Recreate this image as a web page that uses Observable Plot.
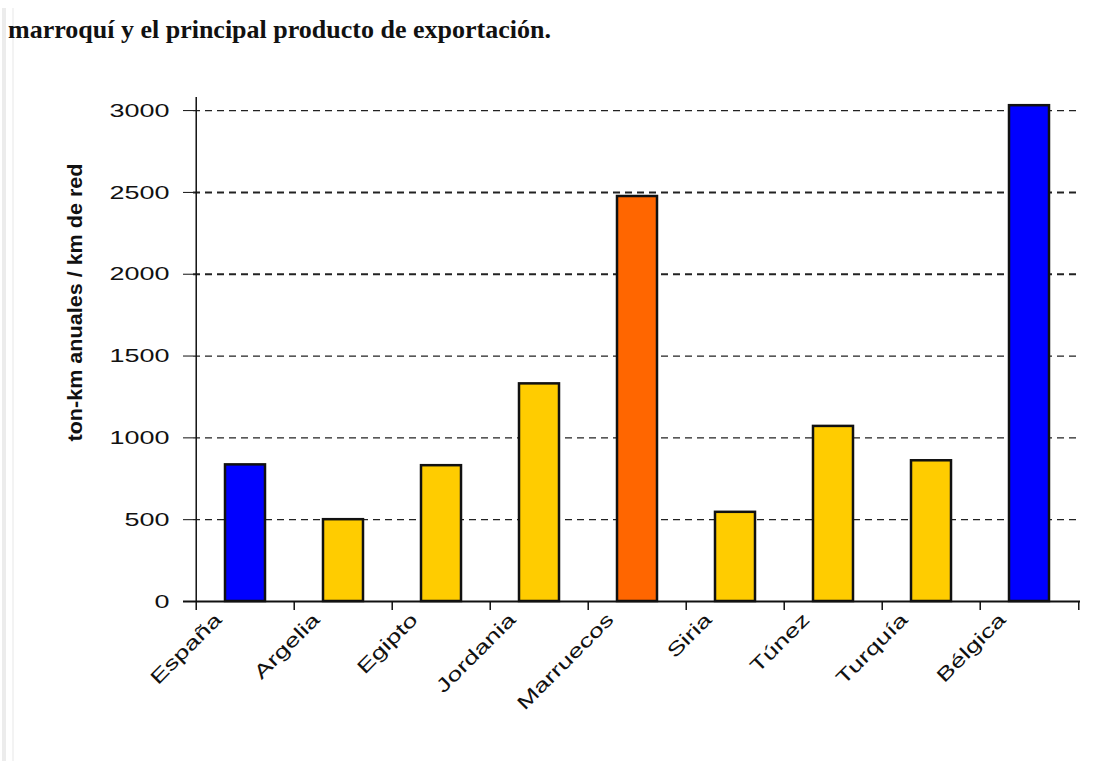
<!DOCTYPE html>
<html><head><meta charset="utf-8">
<script src="https://cdn.jsdelivr.net/npm/d3@7"></script>
<script src="https://cdn.jsdelivr.net/npm/@observablehq/plot@0.6"></script>
<style>
html,body{margin:0;padding:0;background:#fff;width:1106px;height:761px;overflow:hidden}
#wrap{position:relative;width:1106px;height:761px}
#title{position:absolute;left:8px;top:15px;font-family:"Liberation Serif","Times New Roman",serif;font-weight:bold;font-size:26px;color:#111;white-space:nowrap}
#chart{position:absolute;left:0;top:0}
.edge{position:absolute;top:8px;bottom:0;background:#ececec}
</style></head><body>
<div id="wrap">
<div class="edge" style="left:2px;width:4px"></div>
<div class="edge" style="left:12px;width:2px;background:#f3f3f3"></div>
<div id="chart"></div>
<div id="title">marroquí y el principal producto de exportación.</div>
</div>
<script>
const countries = ["España","Argelia","Egipto","Jordania","Marruecos","Siria","Túnez","Turquía","Bélgica"];
const values = [835, 500, 830, 1330, 2475, 545, 1070, 860, 3030];
const groups = ["ref","mag","mag","mag","mar","mag","mag","mag","ref"];
const yTicks = [0,500,1000,1500,2000,2500,3000];
const yLabel = "ton-km anuales / km de red";

const data = countries.map((c,i)=>({country:c, value:values[i], group:groups[i]}));
const W=1106,H=761,mL=193,mR=26,mT=97,mB=160;
const band=(W-mL-mR)/countries.length;
const yMax=3080;

const chart = Plot.plot({
  width:W, height:H, marginLeft:mL, marginRight:mR, marginTop:mT, marginBottom:mB,
  style:{fontFamily:'"Liberation Sans", Arial, sans-serif', fontSize:"19px", color:"#111", background:"transparent", overflow:"visible"},
  x:{domain:countries, padding:0, label:null},
  y:{domain:[0,yMax], label:null},
  color:{domain:["ref","mag","mar"], range:["#0000ff","#ffcc00","#ff6600"]},
  marks:[
    Plot.ruleY(yTicks.filter(d=>d>0), {y:d=>d, stroke:"#222", strokeWidth:d=>(d===2000||d===2500)?2:1.3, strokeDasharray:"7,5"}),
    Plot.barY(data,{x:"country", y:"value", fill:"group", stroke:"#111", strokeWidth:2.5, insetLeft:29, insetRight:29}),
    Plot.ruleY([0],{stroke:"#111", strokeWidth:2, insetLeft:-10}),
    Plot.ruleX(countries,{x:d=>d, dx:-band/2, y1:-55, y2:d=>d===countries[0]?yMax:0, stroke:"#111", strokeWidth:1.5}),
    Plot.ruleX([countries[countries.length-1]],{x:d=>d, dx:band/2, y1:-55, y2:0, stroke:"#111", strokeWidth:1.5}),
    Plot.axisY({ticks:yTicks, tickFormat:d=>String(d), tickSize:10, tickPadding:14, label:null, stroke:"#111"}),
    Plot.axisX({tickSize:0, tickRotate:-45, tickPadding:15, dx:-27, label:null}),
    Plot.text([yLabel], {text:d=>d, frameAnchor:"left", textAnchor:"middle", rotate:-90, dx:-118, dy:-47, fontWeight:"bold", fontSize:20, fill:"#111"})
  ]
});
document.getElementById("chart").appendChild(chart);

function stretch(sel,k){
  chart.querySelectorAll(sel).forEach(t=>{
    const len=t.getComputedTextLength();
    t.setAttribute("textLength", (len*k).toFixed(1));
    t.setAttribute("lengthAdjust","spacingAndGlyphs");
  });
}
stretch('g[aria-label="x-axis tick label"] text',1.42);
stretch('g[aria-label="y-axis tick label"] text',1.42);
chart.querySelectorAll('g[aria-label="text"] text').forEach(t=>{
  t.setAttribute("textLength","278");
  t.setAttribute("lengthAdjust","spacingAndGlyphs");
});
</script>
</body></html>
